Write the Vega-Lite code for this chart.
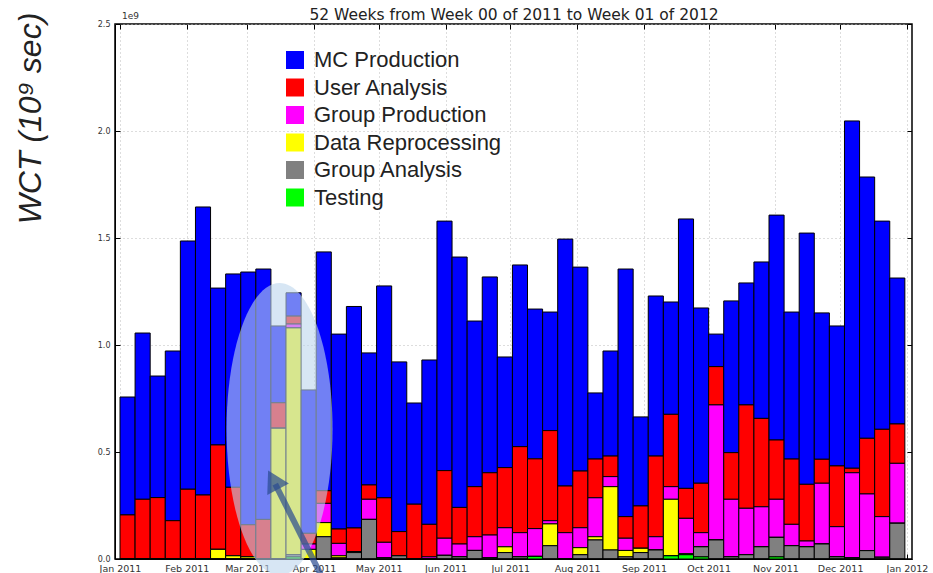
{
  "$schema": "https://vega.github.io/schema/vega-lite/v6.json",
  "width": 797,
  "height": 535,
  "autosize": {"type": "none"},
  "padding": {"left": 115, "top": 24, "right": 21, "bottom": 14},
  "background": "white",
  "config": {"view": {"stroke": "black", "strokeWidth": 1.5}, "font": "DejaVu Sans"},
  "datasets": {
    "cats": [
      {"k": "T", "name": "Testing", "rank": 1},
      {"k": "GA", "name": "Group Analysis", "rank": 2},
      {"k": "DR", "name": "Data Reprocessing", "rank": 3},
      {"k": "GP", "name": "Group Production", "rank": 4},
      {"k": "UA", "name": "User Analysis", "rank": 5},
      {"k": "MC", "name": "MC Production", "rank": 6}
    ],
    "weeks": [
      {"s": "2011-01-01", "e": "2011-01-08", "MC": 0.551, "UA": 0.206, "GP": 0, "DR": 0, "GA": 0, "T": 0},
      {"s": "2011-01-08", "e": "2011-01-15", "MC": 0.777, "UA": 0.279, "GP": 0, "DR": 0, "GA": 0, "T": 0},
      {"s": "2011-01-15", "e": "2011-01-22", "MC": 0.568, "UA": 0.287, "GP": 0, "DR": 0, "GA": 0, "T": 0},
      {"s": "2011-01-22", "e": "2011-01-29", "MC": 0.793, "UA": 0.179, "GP": 0, "DR": 0, "GA": 0, "T": 0},
      {"s": "2011-01-29", "e": "2011-02-05", "MC": 1.16, "UA": 0.326, "GP": 0, "DR": 0, "GA": 0, "T": 0},
      {"s": "2011-02-05", "e": "2011-02-12", "MC": 1.346, "UA": 0.299, "GP": 0, "DR": 0, "GA": 0, "T": 0},
      {"s": "2011-02-12", "e": "2011-02-19", "MC": 0.733, "UA": 0.488, "GP": 0, "DR": 0.045, "GA": 0, "T": 0},
      {"s": "2011-02-19", "e": "2011-02-26", "MC": 0.997, "UA": 0.32, "GP": 0, "DR": 0.015, "GA": 0, "T": 0},
      {"s": "2011-02-26", "e": "2011-03-05", "MC": 1.181, "UA": 0.15, "GP": 0, "DR": 0.01, "GA": 0, "T": 0},
      {"s": "2011-03-05", "e": "2011-03-12", "MC": 1.17, "UA": 0.185, "GP": 0, "DR": 0, "GA": 0, "T": 0},
      {"s": "2011-03-12", "e": "2011-03-19", "MC": 0.359, "UA": 0.119, "GP": 0, "DR": 0.611, "GA": 0, "T": 0},
      {"s": "2011-03-19", "e": "2011-03-26", "MC": 0.109, "UA": 0.037, "GP": 0.018, "DR": 1.06, "GA": 0.01, "T": 0.01},
      {"s": "2011-03-26", "e": "2011-04-02", "MC": 0.67, "UA": 0.05, "GP": 0.025, "DR": 0.045, "GA": 0, "T": 0},
      {"s": "2011-04-02", "e": "2011-04-09", "MC": 1.116, "UA": 0.059, "GP": 0.09, "DR": 0.066, "GA": 0.104, "T": 0},
      {"s": "2011-04-09", "e": "2011-04-16", "MC": 0.911, "UA": 0.067, "GP": 0.058, "DR": 0.01, "GA": 0.005, "T": 0},
      {"s": "2011-04-16", "e": "2011-04-23", "MC": 1.035, "UA": 0.11, "GP": 0, "DR": 0.005, "GA": 0.03, "T": 0},
      {"s": "2011-04-23", "e": "2011-04-30", "MC": 0.617, "UA": 0.067, "GP": 0.094, "DR": 0, "GA": 0.185, "T": 0},
      {"s": "2011-04-30", "e": "2011-05-07", "MC": 0.99, "UA": 0.208, "GP": 0.073, "DR": 0, "GA": 0.005, "T": 0},
      {"s": "2011-05-07", "e": "2011-05-14", "MC": 0.793, "UA": 0.113, "GP": 0, "DR": 0, "GA": 0.015, "T": 0},
      {"s": "2011-05-14", "e": "2011-05-21", "MC": 0.473, "UA": 0.256, "GP": 0, "DR": 0, "GA": 0, "T": 0},
      {"s": "2011-05-21", "e": "2011-05-28", "MC": 0.768, "UA": 0.152, "GP": 0.01, "DR": 0, "GA": 0, "T": 0},
      {"s": "2011-05-28", "e": "2011-06-04", "MC": 1.166, "UA": 0.316, "GP": 0.08, "DR": 0, "GA": 0.017, "T": 0},
      {"s": "2011-06-04", "e": "2011-06-11", "MC": 1.17, "UA": 0.171, "GP": 0.06, "DR": 0, "GA": 0.01, "T": 0},
      {"s": "2011-06-11", "e": "2011-06-18", "MC": 0.774, "UA": 0.234, "GP": 0.064, "DR": 0, "GA": 0.04, "T": 0},
      {"s": "2011-06-18", "e": "2011-06-25", "MC": 0.915, "UA": 0.291, "GP": 0.107, "DR": 0, "GA": 0.005, "T": 0},
      {"s": "2011-06-25", "e": "2011-07-02", "MC": 0.517, "UA": 0.281, "GP": 0.089, "DR": 0.027, "GA": 0.03, "T": 0},
      {"s": "2011-07-02", "e": "2011-07-09", "MC": 0.849, "UA": 0.402, "GP": 0.113, "DR": 0, "GA": 0.01, "T": 0},
      {"s": "2011-07-09", "e": "2011-07-16", "MC": 0.7, "UA": 0.326, "GP": 0.13, "DR": 0, "GA": 0, "T": 0.012},
      {"s": "2011-07-16", "e": "2011-07-23", "MC": 0.554, "UA": 0.421, "GP": 0.015, "DR": 0.102, "GA": 0.062, "T": 0},
      {"s": "2011-07-23", "e": "2011-07-30", "MC": 1.154, "UA": 0.218, "GP": 0.123, "DR": 0, "GA": 0, "T": 0},
      {"s": "2011-07-30", "e": "2011-08-06", "MC": 0.953, "UA": 0.265, "GP": 0.093, "DR": 0.033, "GA": 0.02, "T": 0},
      {"s": "2011-08-06", "e": "2011-08-13", "MC": 0.309, "UA": 0.181, "GP": 0.182, "DR": 0.015, "GA": 0.089, "T": 0},
      {"s": "2011-08-13", "e": "2011-08-20", "MC": 0.491, "UA": 0.096, "GP": 0.047, "DR": 0.296, "GA": 0.042, "T": 0},
      {"s": "2011-08-20", "e": "2011-08-27", "MC": 1.157, "UA": 0.101, "GP": 0.057, "DR": 0.03, "GA": 0.01, "T": 0},
      {"s": "2011-08-27", "e": "2011-09-03", "MC": 0.416, "UA": 0.198, "GP": 0, "DR": 0.02, "GA": 0.03, "T": 0},
      {"s": "2011-09-03", "e": "2011-09-10", "MC": 0.748, "UA": 0.377, "GP": 0.062, "DR": 0, "GA": 0.042, "T": 0},
      {"s": "2011-09-10", "e": "2011-09-17", "MC": 0.525, "UA": 0.338, "GP": 0.059, "DR": 0.264, "GA": 0, "T": 0.015},
      {"s": "2011-09-17", "e": "2011-09-24", "MC": 1.259, "UA": 0.14, "GP": 0.165, "DR": 0.005, "GA": 0, "T": 0.02},
      {"s": "2011-09-24", "e": "2011-10-01", "MC": 0.819, "UA": 0.231, "GP": 0.066, "DR": 0, "GA": 0.047, "T": 0.01},
      {"s": "2011-10-01", "e": "2011-10-08", "MC": 0.152, "UA": 0.179, "GP": 0.631, "DR": 0, "GA": 0.089, "T": 0},
      {"s": "2011-10-08", "e": "2011-10-15", "MC": 0.709, "UA": 0.218, "GP": 0.269, "DR": 0, "GA": 0.01, "T": 0},
      {"s": "2011-10-15", "e": "2011-10-22", "MC": 0.57, "UA": 0.483, "GP": 0.217, "DR": 0, "GA": 0.02, "T": 0},
      {"s": "2011-10-22", "e": "2011-10-29", "MC": 0.731, "UA": 0.413, "GP": 0.187, "DR": 0, "GA": 0.057, "T": 0},
      {"s": "2011-10-29", "e": "2011-11-05", "MC": 1.051, "UA": 0.277, "GP": 0.178, "DR": 0, "GA": 0.091, "T": 0.01},
      {"s": "2011-11-05", "e": "2011-11-12", "MC": 0.687, "UA": 0.305, "GP": 0.1, "DR": 0, "GA": 0.062, "T": 0},
      {"s": "2011-11-12", "e": "2011-11-19", "MC": 1.174, "UA": 0.265, "GP": 0.027, "DR": 0, "GA": 0.057, "T": 0},
      {"s": "2011-11-19", "e": "2011-11-26", "MC": 0.684, "UA": 0.112, "GP": 0.284, "DR": 0, "GA": 0.07, "T": 0},
      {"s": "2011-11-26", "e": "2011-12-03", "MC": 0.654, "UA": 0.284, "GP": 0.141, "DR": 0, "GA": 0.01, "T": 0},
      {"s": "2011-12-03", "e": "2011-12-10", "MC": 1.623, "UA": 0.021, "GP": 0.398, "DR": 0, "GA": 0.005, "T": 0},
      {"s": "2011-12-10", "e": "2011-12-17", "MC": 1.221, "UA": 0.26, "GP": 0.265, "DR": 0, "GA": 0.039, "T": 0},
      {"s": "2011-12-17", "e": "2011-12-24", "MC": 0.973, "UA": 0.408, "GP": 0.19, "DR": 0, "GA": 0.008, "T": 0},
      {"s": "2011-12-24", "e": "2011-12-31", "MC": 0.682, "UA": 0.184, "GP": 0.28, "DR": 0, "GA": 0.167, "T": 0}
    ]
  },
  "resolve": {"axis": {"x": "independent", "y": "independent"}},
  "layer": [
    {
      "data": {"name": "weeks"},
      "transform": [
        {"fold": ["MC", "UA", "GP", "DR", "GA", "T"], "as": ["k", "v"]},
        {"lookup": "k", "from": {"data": {"name": "cats"}, "key": "k", "fields": ["name", "rank"]}}
      ],
      "mark": {"type": "bar", "orient": "vertical", "stroke": "black", "strokeWidth": 1},
      "encoding": {
        "x": {"field": "s", "type": "temporal",
          "scale": {"type": "utc", "nice": false, "domain": [{"year": 2011, "month": 1, "date": 1, "utc": true}, {"year": 2012, "month": 1, "date": 1, "utc": true}]},
          "axis": {"orient": "bottom", "title": null, "format": "%b %Y", "tickCount": {"interval": "month", "step": 1}, "labelFontSize": 9.5, "labelColor": "#333", "labelFont": "DejaVu Sans", "labelFlush": false, "tickSize": -5, "tickColor": "black", "labelPadding": 9, "grid": true, "gridDash": [1, 3], "gridColor": "#bbb", "domainColor": "black"}},
        "x2": {"field": "e"},
        "y": {"field": "v", "type": "quantitative", "stack": "zero",
          "scale": {"domain": [0, 2.5], "nice": false},
          "axis": {"orient": "left", "values": [0, 0.5, 1, 1.5, 2, 2.5], "format": ".1f", "labelFontSize": 8, "labelColor": "#333", "tickSize": -5, "tickColor": "black", "labelPadding": 10, "grid": true, "gridDash": [1, 3], "gridColor": "#bbb", "domainColor": "black",
            "title": "WCT (10⁹ sec)", "titleFont": "Liberation Sans", "titleFontSize": 32, "titleFontStyle": "italic", "titleFontWeight": "normal", "titleColor": "#222", "titleAngle": -90, "titleAlign": "center", "titleBaseline": "middle", "titleX": -85, "titleY": 94}},
        "color": {"field": "name", "type": "nominal",
          "scale": {"domain": ["MC Production", "User Analysis", "Group Production", "Data Reprocessing", "Group Analysis", "Testing"], "range": ["#0000ff", "#ff0000", "#ff00ff", "#ffff00", "#808080", "#00ff00"]},
          "legend": {"orient": "none", "legendX": 169, "legendY": 25, "title": null, "symbolType": "square", "symbolSize": 324, "symbolStrokeWidth": 0, "labelFontSize": 22, "labelFont": "Liberation Sans", "labelColor": "#222", "labelLimit": 400, "rowPadding": 5.5, "labelOffset": 8}},
        "order": {"field": "rank", "type": "quantitative", "sort": "ascending"}
      }
    },
    {
      "data": {"values": [{}]},
      "mark": {"type": "point", "opacity": 0},
      "encoding": {
        "x": {"datum": {"year": 2011, "month": 6, "date": 1, "utc": true}, "type": "temporal",
          "axis": {"orient": "top", "labels": false, "grid": false, "domain": false, "tickCount": {"interval": "month", "step": 1}, "tickSize": -5, "tickColor": "black",
            "title": "52 Weeks from Week 00 of 2011 to Week 01 of 2012", "titleFont": "DejaVu Sans", "titleFontSize": 15.5, "titleFontWeight": "normal", "titleColor": "#222", "titlePadding": 1, "titleAnchor": "middle"}},
        "y": {"datum": 1, "type": "quantitative",
          "axis": {"orient": "right", "labels": false, "title": null, "grid": false, "domain": false, "values": [0, 0.5, 1, 1.5, 2, 2.5], "tickSize": -5, "tickColor": "black"}}
      }
    },
    {
      "data": {"values": [{}]},
      "mark": {"type": "text", "text": "1e9", "align": "left", "baseline": "bottom", "fontSize": 9, "font": "DejaVu Sans", "color": "#333", "dx": 2, "dy": -3},
      "encoding": {
        "x": {"datum": {"year": 2011, "month": 1, "date": 1, "utc": true}, "type": "temporal", "axis": null},
        "y": {"datum": 2.5, "type": "quantitative", "axis": null}
      }
    },
    {
      "data": {"values": [{}]},
      "mark": {"type": "point", "shape": "M-0.363,0A0.363,1,0,1,1,0.363,0A0.363,1,0,1,1,-0.363,0Z", "size": 85264, "filled": true, "fill": "#bcd6ec", "opacity": 0.6, "strokeWidth": 0},
      "encoding": {
        "x": {"datum": {"year": 2011, "month": 3, "date": 16, "utc": true}, "type": "temporal", "axis": null},
        "y": {"datum": 0.607, "type": "quantitative", "axis": null}
      }
    },
    {
      "data": {"values": [{}]},
      "mark": {"type": "rule", "strokeWidth": 6, "color": "#2a4a90", "opacity": 0.7},
      "encoding": {
        "x": {"datum": {"year": 2011, "month": 4, "date": 4, "utc": true}, "type": "temporal", "axis": null},
        "y": {"datum": -0.07, "type": "quantitative", "axis": null},
        "x2": {"datum": {"year": 2011, "month": 3, "date": 14, "utc": true}},
        "y2": {"datum": 0.35}
      }
    },
    {
      "data": {"values": [{}]},
      "mark": {"type": "point", "shape": "triangle-up", "size": 600, "filled": true, "color": "#2a4a90", "opacity": 0.7, "angle": -28},
      "encoding": {
        "x": {"datum": {"year": 2011, "month": 3, "date": 13, "utc": true}, "type": "temporal", "axis": null},
        "y": {"datum": 0.37, "type": "quantitative", "axis": null}
      }
    }
  ]
}
